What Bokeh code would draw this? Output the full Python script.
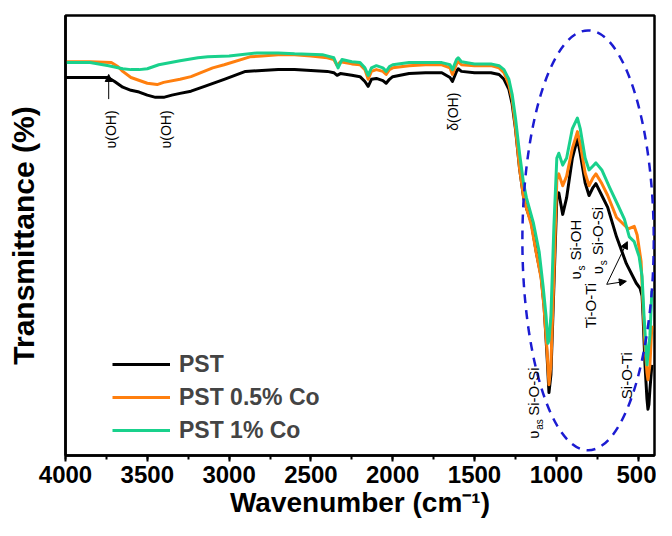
import math
from bokeh.plotting import figure
from bokeh.models import (Range1d, SingleIntervalTicker, FixedTicker, Arrow, NormalHead,
                          ColumnDataSource, Legend, LegendItem)
from bokeh.core.properties import value
from bokeh.embed import file_html
from bokeh.resources import INLINE

# ---------------- data ----------------
series_names = ["PST", "PST 0.5% Co", "PST 1% Co"]
series_colors = ["#000000", "#FF7F0E", "#19D18C"]

wn_pst = [4000, 3850, 3740, 3700, 3650, 3600, 3550, 3500, 3450, 3400,
          3350, 3300, 3233, 3150, 3030, 2900, 2800, 2700, 2600, 2500,
          2400, 2360, 2340, 2320, 2250, 2200, 2170, 2150, 2130, 2100,
          2060, 2040, 2020, 2000, 1900, 1800, 1700, 1650, 1635, 1610,
          1600, 1580, 1500, 1400, 1350, 1320, 1290, 1270, 1250, 1225,
          1200, 1180, 1153, 1123, 1093, 1075, 1057, 1045, 1033, 1015,
          997, 985, 961, 937, 902, 871, 854, 824, 800, 776,
          758, 722, 686, 632, 572, 512, 488, 476, 470, 458,
          446, 440, 434, 428, 416]
t_pst = [85.9, 85.9, 85.9, 85.0, 83.7, 83.0, 82.6, 81.9, 81.4, 81.4,
         81.9, 82.3, 82.8, 83.9, 85.5, 87.3, 87.5, 87.7, 87.7, 87.5,
         87.3, 87.0, 86.4, 86.8, 86.4, 86.1, 85.0, 83.9, 85.5, 85.7,
         85.2, 84.6, 85.5, 86.1, 86.8, 87.0, 87.0, 85.9, 85.0, 87.3,
         87.9, 87.3, 87.0, 87.0, 86.6, 85.5, 83.2, 79.9, 74.3, 65.3,
         58.6, 55.9, 53.0, 46.3, 40.7, 34.0, 22.8, 14.3, 18.4, 38.5,
         58.6, 59.7, 54.8, 58.6, 67.6, 72.0, 68.7, 62.0, 59.1, 60.9,
         61.8, 59.1, 56.4, 49.7, 43.6, 39.2, 38.0, 36.3, 31.8, 20.6,
         12.8, 10.5, 11.6, 15.0, 20.6]

wn_co05 = [4000, 3850, 3720, 3680, 3650, 3600, 3500, 3440, 3400, 3300,
           3233, 3100, 3030, 2873, 2800, 2700, 2600, 2500, 2400, 2360,
           2340, 2320, 2250, 2200, 2170, 2150, 2130, 2100, 2060, 2040,
           2020, 2000, 1900, 1800, 1700, 1650, 1635, 1610, 1600, 1580,
           1500, 1400, 1350, 1320, 1290, 1270, 1250, 1225, 1200, 1180,
           1153, 1123, 1093, 1075, 1057, 1045, 1033, 1015, 997, 985,
           961, 937, 902, 871, 854, 824, 800, 776, 758, 722,
           686, 632, 560, 524, 506, 482, 470, 458, 446, 440,
           428, 416]
t_co05 = [89.5, 89.5, 89.3, 88.4, 87.3, 85.9, 84.6, 84.3, 84.8, 85.5,
          86.1, 88.1, 88.8, 90.6, 90.8, 91.1, 91.1, 90.8, 90.4, 90.0,
          88.6, 89.5, 89.0, 88.8, 87.7, 85.5, 87.3, 87.7, 87.3, 86.6,
          87.7, 88.1, 88.6, 88.8, 88.8, 88.1, 86.6, 89.0, 89.5, 88.8,
          88.6, 88.6, 88.1, 87.0, 84.3, 81.0, 74.7, 65.3, 58.6, 55.9,
          52.4, 46.1, 40.3, 33.6, 23.9, 16.1, 20.6, 40.7, 62.6, 64.0,
          61.3, 63.5, 69.8, 73.6, 70.9, 64.2, 61.3, 63.1, 64.0, 61.8,
          59.1, 54.1, 51.5, 52.1, 50.1, 44.1, 34.0, 25.1, 18.8, 17.2,
          20.6, 29.5]

wn_co1 = [4000, 3850, 3736, 3650, 3600, 3550, 3500, 3430, 3300, 3190,
          3130, 3000, 2830, 2700, 2600, 2430, 2360, 2334, 2310, 2250,
          2200, 2170, 2150, 2130, 2100, 2060, 2040, 2020, 2000, 1900,
          1800, 1700, 1650, 1635, 1610, 1600, 1580, 1500, 1400, 1350,
          1320, 1290, 1270, 1249, 1225, 1201, 1183, 1141, 1105, 1081,
          1063, 1051, 1045, 1033, 1015, 997, 985, 961, 937, 902,
          871, 854, 824, 800, 776, 758, 722, 674, 626, 584,
          554, 524, 494, 476, 464, 446, 428, 416]
t_co1 = [89.3, 89.3, 88.6, 87.9, 87.7, 87.7, 87.9, 88.8, 89.7, 90.4,
         90.6, 90.8, 91.5, 91.5, 91.3, 91.1, 90.4, 88.1, 90.0, 89.5,
         89.3, 88.1, 86.4, 88.1, 88.6, 88.1, 87.3, 88.4, 88.8, 89.3,
         89.3, 89.3, 88.8, 87.7, 90.0, 90.4, 89.5, 89.0, 89.0, 88.6,
         87.7, 85.5, 82.1, 76.5, 68.7, 62.0, 58.6, 53.0, 46.3, 38.5,
         31.8, 25.5, 26.2, 31.8, 51.9, 67.6, 68.7, 66.0, 67.6, 74.3,
         76.7, 74.3, 67.6, 64.9, 65.8, 66.5, 64.9, 60.9, 57.1, 53.7,
         49.7, 48.6, 45.2, 40.7, 31.8, 20.6, 27.3, 37.4]

# highlighted region (dashed ellipse)
ell_x = [806]
ell_y = [48.9]
ell_w = [803]
ell_h = [95.5]

# band annotations
oh_text = ["\u03c5(OH)", "\u03c5(OH)", "\u03b4(OH)"]
oh_x = [3724, 3383, 1633]
oh_y = [69.8, 69.8, 73.8]

band_main = ["Si-OH", "Si-O-Si", "Si-O-Si"]
band_sub = ["s", "s", "as"]
band_x = [884, 746, 1141]
band_y = [40.0, 41.2, 3.8]

plain_text = ["Ti-O-Ti", "Si-O-Ti"]
plain_x = [794, 572]
plain_y = [28.9, 12.8]

arr_x0 = [3736, 692, 692]
arr_y0 = [81.0, 38.9, 38.9]
arr_x1 = [3736, 566, 572]
arr_y1 = [86.6, 48.6, 39.6]

FONT = "Liberation Sans"

# ---------------- figure ----------------
p = figure(width=656, height=520, output_backend="svg", toolbar_location=None,
           x_range=Range1d(4000, 400), y_range=Range1d(0, 100),
           min_border_left=65, min_border_right=2, min_border_top=15, min_border_bottom=10)
p.background_fill_color = "white"
p.border_fill_color = "white"
p.outline_line_color = "black"
p.outline_line_width = 2.5
p.outline_line_alpha = 1.0
p.xgrid.visible = False
p.ygrid.visible = False

renderers = []
for wn, tt, col in [(wn_pst, t_pst, series_colors[0]),
                    (wn_co05, t_co05, series_colors[1]),
                    (wn_co1, t_co1, series_colors[2])]:
    r = p.line(wn, tt, line_color=col, line_width=3, line_join="round")
    renderers.append(r)

# dashed ellipse
p.ellipse(x=ell_x, y=ell_y, width=ell_w, height=ell_h, fill_color=None,
          line_color="#1C1CD2", line_width=2.5, line_dash="9 7")

# text labels (rotated)
common = dict(angle=math.pi / 2, text_font=value(FONT), text_align="left",
              text_baseline="middle", text_color="black")
p.text(x=oh_x, y=oh_y, text=oh_text, text_font_size="14px", **common)
p.text(x=plain_x, y=plain_y, text=plain_text, text_font_size="15px", **common)
p.text(x=band_x, y=band_y, text=["\u03c5"] * len(band_x), text_font_size="15px", **common)
p.text(x=band_x, y=band_y, text=band_sub, text_font_size="10px",
       x_offset=6, y_offset=-9, **common)
main_off = [-19 if s == "s" else -23 for s in band_sub]
p.text(x=band_x, y=band_y, text=band_main, text_font_size="15px",
       y_offset=main_off, **common)

# arrows
asrc = ColumnDataSource(dict(x0=arr_x0, y0=arr_y0, x1=arr_x1, y1=arr_y1))
p.add_layout(Arrow(x_start="x0", y_start="y0", x_end="x1", y_end="y1", source=asrc,
                   line_color="black", line_width=1,
                   end=NormalHead(size=7, fill_color="black", line_color="black")))

# axes
xa = p.xaxis[0]
xa.ticker = SingleIntervalTicker(interval=500, num_minor_ticks=2)
xa.axis_line_width = 2.5
xa.major_tick_line_width = 2
xa.minor_tick_line_width = 2
xa.major_tick_out = 6
xa.major_tick_in = 0
xa.minor_tick_out = 4
xa.minor_tick_in = 0
xa.major_label_text_font = FONT
xa.major_label_text_font_style = "bold"
xa.major_label_text_font_size = "24px"
xa.major_label_text_color = "black"
xa.major_label_standoff = 4
xa.axis_label = "Wavenumber (cm\u207b\u00b9)"
xa.axis_label_text_font = FONT
xa.axis_label_text_font_style = "bold"
xa.axis_label_text_font_size = "28px"
xa.axis_label_text_color = "black"
xa.axis_label_standoff = 1

ya = p.yaxis[0]
ya.ticker = FixedTicker(ticks=[])
ya.axis_line_width = 2.5
ya.major_tick_line_color = None
ya.minor_tick_line_color = None
ya.axis_label = "Transmittance (%)"
ya.axis_label_text_font = FONT
ya.axis_label_text_font_style = "bold"
ya.axis_label_text_font_size = "30px"
ya.axis_label_text_color = "black"
ya.axis_label_standoff = 26

legend = Legend(items=[LegendItem(label=n, renderers=[r]) for n, r in zip(series_names, renderers)],
                location=(47, 11), glyph_width=58, glyph_height=28, label_height=28,
                spacing=5, padding=5, label_standoff=9,
                label_text_font=FONT, label_text_font_style="bold",
                label_text_font_size="23px", background_fill_alpha=0,
                border_line_color=None)
p.add_layout(legend, "center")

open("out.html", "w").write(file_html(p, INLINE))
